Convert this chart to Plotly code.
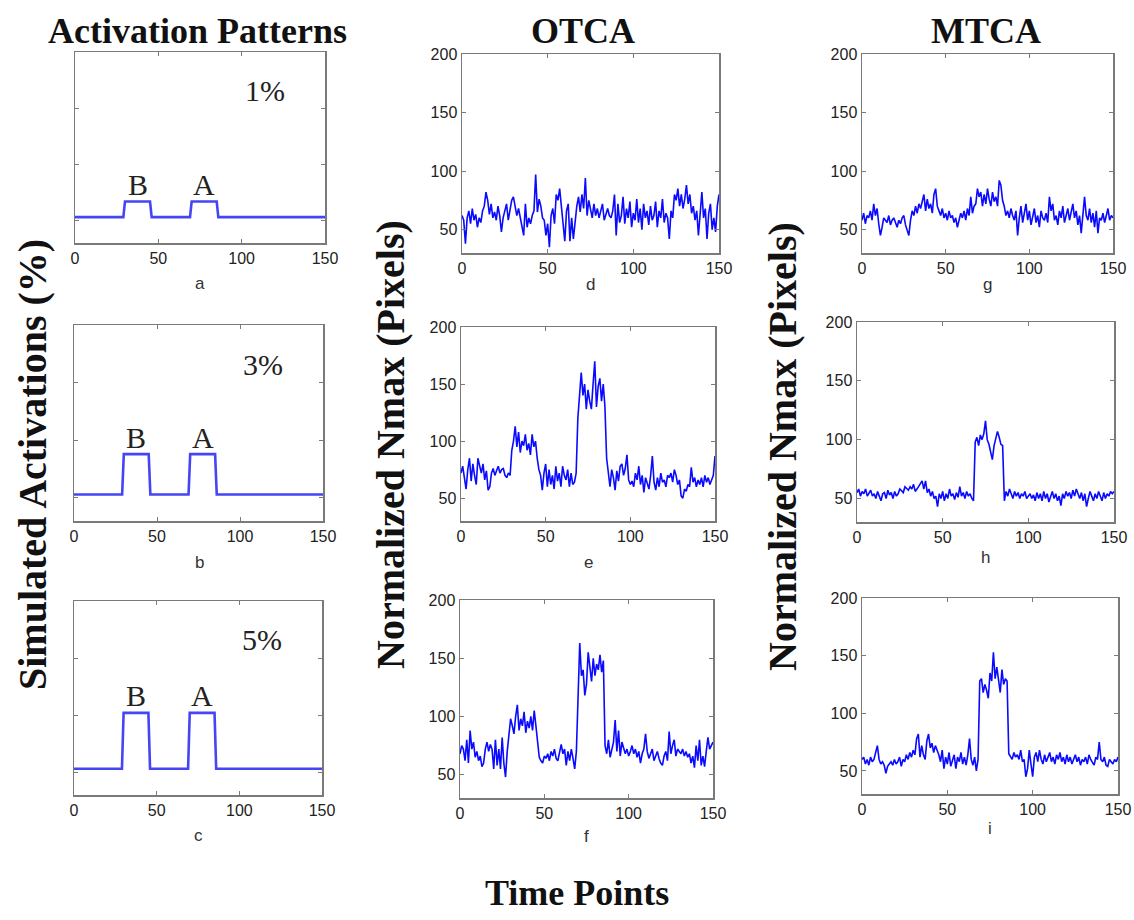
import plotly.graph_objects as go

# ---------------- data ----------------
time_points = list(range(151))
x_tick_vals = [0, 50, 100, 150]
y_tick_vals = [50, 100, 150, 200]

# activation patterns (key time points of the two boxcar pulses B and A)
act_time = [0, 29, 30, 45, 46, 69, 70, 85, 86, 150]
act_1pct = [53, 53, 67, 67, 53, 53, 67, 67, 53, 53]
act_3pct = [53, 53, 88, 88, 53, 53, 88, 88, 53, 53]
act_5pct = [53, 53, 102, 102, 53, 53, 102, 102, 53, 53]
pulse_B = [30, 45]
pulse_A = [70, 85]

otca_1 = [62, 58, 38, 60, 66, 55, 68, 58, 63, 52,
          60, 56, 66, 70, 82, 75, 63, 72, 60, 65,
          58, 70, 62, 48, 60, 66, 72, 58, 68, 75,
          78, 70, 62, 68, 60, 55, 45, 72, 52, 60,
          55, 62, 66, 97, 65, 76, 70, 60, 58, 45,
          55, 35, 62, 68, 55, 80, 75, 85, 70, 58,
          40, 66, 72, 40, 60, 42, 58, 70, 78, 65,
          80, 68, 94, 62, 75, 68, 60, 72, 62, 68,
          60, 66, 72, 58, 64, 68, 62, 60, 66, 80,
          45, 72, 56, 62, 78, 55, 68, 60, 74, 52,
          64, 58, 76, 56, 68, 50, 72, 60, 66, 54,
          70, 58, 62, 74, 52, 66, 60, 76, 56, 64,
          60, 42, 66, 60, 80, 75, 85, 70, 80, 68,
          76, 88, 72, 80, 64, 70, 58, 66, 45, 62,
          82, 60, 68, 42, 64, 72, 50, 60, 48, 70,
          80]

otca_3 = [72, 78, 68, 58, 75, 85, 65, 80, 70, 62,
          85, 78, 72, 80, 66, 74, 57, 60, 72, 76,
          70, 74, 78, 72, 75, 76, 70, 68, 72, 70,
          92, 100, 113, 95, 108, 90, 100, 96, 106, 92,
          98, 88, 106, 95, 100, 85, 75, 70, 57, 72,
          80, 60, 75, 62, 70, 58, 78, 65, 72, 60,
          78, 70, 66, 75, 60, 72, 62, 64, 72, 120,
          145, 160, 140, 150, 128, 145, 135, 128, 150, 170,
          130, 148, 155, 135, 150, 130, 85, 72, 60, 75,
          68, 57, 74, 65, 78, 80, 70, 76, 88, 66,
          62, 65, 60, 72, 66, 78, 62, 70, 55, 68,
          62, 58, 70, 87, 64, 57, 68, 60, 72, 64,
          66, 60, 70, 68, 72, 64, 75, 70, 62, 66,
          52, 50, 58, 56, 62, 60, 77, 64, 68, 60,
          66, 62, 68, 60, 70, 64, 68, 62, 66, 70,
          87]

otca_5 = [68, 75, 72, 62, 80, 60, 88, 72, 78, 65,
          70, 62, 66, 57, 60, 72, 78, 70, 76, 72,
          55, 80, 58, 72, 55, 82, 60, 48, 70, 85,
          98, 92, 85, 100, 110, 88, 98, 92, 104, 86,
          96, 90, 100, 88, 105, 92, 75, 65, 62, 60,
          66, 64, 68, 62, 70, 66, 72, 64, 62, 70,
          76, 68, 72, 58, 70, 62, 72, 64, 55, 70,
          125, 163, 135, 140, 118, 128, 155, 140, 130, 150,
          135, 145, 140, 153, 138, 148, 75, 68, 80, 65,
          72, 78, 97, 70, 88, 66, 78, 72, 68, 72,
          66, 70, 75, 68, 72, 65, 70, 60, 68, 72,
          85, 70, 64, 68, 72, 62, 66, 70, 64, 60,
          58, 66, 70, 62, 87, 68, 75, 80, 66, 72,
          70, 68, 72, 66, 70, 65, 68, 60, 66, 56,
          75, 62, 80, 58, 66, 57, 70, 82, 72, 75,
          78]

mtca_1 = [58, 64, 55, 62, 60, 66, 58, 72, 62, 68,
          55, 45, 52, 60, 58, 56, 62, 54, 58, 60,
          56, 52, 58, 55, 60, 62, 54, 50, 45, 58,
          66, 62, 70, 64, 72, 68, 74, 80, 66, 76,
          68, 72, 64, 80, 85, 70, 66, 62, 68, 60,
          64, 58, 66, 60, 62, 56, 60, 52, 58, 64,
          60, 66, 58, 68, 62, 78, 64, 70, 72, 85,
          78, 82, 70, 80, 72, 85, 76, 70, 82, 74,
          78, 70, 92, 88, 75, 70, 62, 66, 60, 68,
          62, 58, 66, 45, 60, 70, 56, 64, 72, 58,
          66, 54, 60, 68, 56, 62, 52, 66, 60, 58,
          64, 56, 78, 66, 72, 58, 62, 54, 66, 60,
          70, 56, 62, 68, 58, 64, 72, 60, 66, 54,
          62, 47, 66, 78, 62, 58, 68, 56, 64, 52,
          66, 47, 60, 58, 64, 56, 62, 68, 58, 62,
          60]

mtca_3 = [55, 58, 52, 56, 54, 58, 52, 55, 57, 52,
          54, 50, 56, 52, 48, 54, 55, 50, 57, 53,
          55, 50, 56, 52, 54, 58, 56, 55, 60, 58,
          57, 60, 58, 62, 56, 58, 60, 62, 65, 58,
          65, 55, 58, 52, 56, 50, 52, 43, 54, 50,
          56, 48, 54, 50, 58, 52, 54, 49, 55, 51,
          60, 52, 55, 50, 56, 52, 54, 50, 48, 98,
          102, 95, 104, 100, 105, 116, 100, 96, 90, 83,
          95, 100, 107, 102, 96, 95, 48, 56, 52, 58,
          54, 50, 56, 52, 55, 50, 54, 52, 56, 50,
          52, 54, 50, 53, 48, 55, 50, 54, 48, 56,
          50, 54, 47, 52, 56, 50, 54, 48, 52, 44,
          54, 50, 56, 52, 55, 50, 57, 52, 58, 54,
          50, 55, 48, 54, 43, 50, 56, 52, 48, 54,
          50, 56, 52, 48, 55, 50, 54, 52, 56, 54,
          56]

mtca_5 = [60, 62, 56, 60, 55, 62, 58, 60, 66, 72,
          60, 56, 58, 55, 48, 54, 56, 58, 55, 60,
          56, 58, 62, 54, 60, 58, 64, 60, 66, 62,
          68, 64, 78, 82, 62, 72, 64, 60, 76, 82,
          70, 74, 66, 72, 68, 64, 58, 68, 52, 62,
          56, 66, 54, 60, 64, 52, 62, 58, 66, 56,
          62, 55, 64, 78, 60, 55, 62, 50, 60, 128,
          130, 118, 125, 120, 113, 135, 128, 153, 130, 140,
          128, 118, 138, 125, 130, 128, 65, 62, 60, 66,
          62, 64, 60, 68, 58, 60, 45, 52, 68, 56,
          45, 62, 66, 58, 68, 60, 56, 64, 58, 62,
          66, 58, 62, 56, 64, 60, 66, 58, 62, 56,
          64, 58, 62, 56, 60, 64, 58, 62, 55, 60,
          58, 62, 56, 64, 60, 58, 55, 62, 60, 75,
          60, 58, 62, 55, 54, 60, 58, 56, 60, 58,
          62]

panel_letters = ["a", "b", "c", "d", "e", "f", "g", "h", "i"]
pct_labels = ["1%", "3%", "5%"]
column_titles = ["Activation Patterns", "OTCA", "MTCA"]
y_title_left = "Simulated Activations (%)"
y_title_right = "Normalized Nmax (Pixels)"
x_title = "Time Points"

# ---------------- layout geometry (pixels) ----------------
W, H = 1134, 920
# (left, right, top, bottom) of each panel, in pixels
boxes = {
    "a": (75, 325, 52, 243), "b": (74, 323, 325, 521), "c": (74, 322, 601, 795),
    "d": (462, 719, 54, 253), "e": (461, 715, 327, 521), "f": (460, 713, 600, 798),
    "g": (862, 1113, 54, 253), "h": (857, 1114, 322, 522), "i": (862, 1118, 598, 794),
}
letter_pos = {
    "a": (200, 283), "b": (199, 562), "c": (198, 835),
    "d": (590, 285), "e": (588, 562), "f": (586, 836),
    "g": (987, 285), "h": (985, 557), "i": (990, 828),
}

def fx(p):
    return p / W

def fy(p):
    return 1 - p / H

act_series = {"a": act_1pct, "b": act_3pct, "c": act_5pct}
noisy_series = {"d": otca_1, "e": otca_3, "f": otca_5,
                "g": mtca_1, "h": mtca_3, "i": mtca_5}

FRAME = "#7a7a7a"
TICKFONT = dict(family="Liberation Sans, Arial, sans-serif", size=16, color="#222222")
SERIF = "Liberation Serif, Times New Roman, serif"

fig = go.Figure()
layout = dict(
    width=W, height=H,
    margin=dict(l=0, r=0, t=0, b=0),
    paper_bgcolor="white", plot_bgcolor="white",
    showlegend=False,
)
annotations = []

for k, letter in enumerate(panel_letters, start=1):
    xa = "x" if k == 1 else f"x{k}"
    ya = "y" if k == 1 else f"y{k}"
    l, r, t, b = boxes[letter]
    is_act = letter in act_series

    if is_act:
        fig.add_trace(go.Scatter(x=act_time, y=act_series[letter], mode="lines",
                                 line=dict(color="#4545f5", width=2.6),
                                 xaxis=xa, yaxis=ya, hoverinfo="skip"))
    else:
        fig.add_trace(go.Scatter(x=time_points, y=noisy_series[letter], mode="lines",
                                 line=dict(color="#0a0aff", width=1.6),
                                 xaxis=xa, yaxis=ya, hoverinfo="skip"))

    layout["xaxis" if k == 1 else f"xaxis{k}"] = dict(
        domain=[fx(l), fx(r)], anchor=ya, range=[0, 150],
        tickvals=x_tick_vals, ticks="inside", ticklen=4, tickcolor=FRAME,
        showline=True, linecolor=FRAME, linewidth=1.5, mirror="ticks",
        showgrid=False, zeroline=False, tickfont=TICKFONT, fixedrange=True,
        automargin=False,
    )
    layout["yaxis" if k == 1 else f"yaxis{k}"] = dict(
        domain=[fy(b), fy(t)], anchor=xa, range=[30, 200],
        tickvals=y_tick_vals, ticks="inside", ticklen=4, tickcolor=FRAME,
        showline=True, linecolor=FRAME, linewidth=1.5, mirror="ticks",
        showgrid=False, zeroline=False, tickfont=TICKFONT, fixedrange=True,
        showticklabels=not is_act, automargin=False,
    )

    lx, ly = letter_pos[letter]
    annotations.append(dict(text=letter, x=fx(lx), y=fy(ly), xref="paper", yref="paper",
                            showarrow=False, xanchor="center", yanchor="middle",
                            font=dict(family="Liberation Sans, Arial, sans-serif",
                                      size=17, color="#333333")))

    if is_act:
        idx = ["a", "b", "c"].index(letter)
        peak = max(act_series[letter])
        annotations.append(dict(text=pct_labels[idx], x=114, y=166, xref=xa, yref=ya,
                                showarrow=False, xanchor="center", yanchor="middle",
                                font=dict(family=SERIF, size=30, color="#222222")))
        for name, pulse in (("B", pulse_B), ("A", pulse_A)):
            annotations.append(dict(text=name, x=(pulse[0] + pulse[1]) / 2, y=peak,
                                    xref=xa, yref=ya, showarrow=False,
                                    xanchor="center", yanchor="middle", yshift=17,
                                    font=dict(family=SERIF, size=30, color="#222222")))

# column titles
for title, cx in zip(column_titles, [197, 583, 986]):
    annotations.append(dict(text=title, x=fx(cx), y=fy(31), xref="paper", yref="paper",
                            showarrow=False, xanchor="center", yanchor="middle",
                            font=dict(family=SERIF, size=36, color="#111111", weight="bold")))

# y titles
for text, cx, cy in [(y_title_left, 32, 465), (y_title_right, 390, 445), (y_title_right, 782, 447)]:
    annotations.append(dict(text=text, x=fx(cx), y=fy(cy), xref="paper", yref="paper",
                            showarrow=False, xanchor="center", yanchor="middle", textangle=-90,
                            font=dict(family=SERIF, size=40, color="#111111", weight="bold")))

# x title
annotations.append(dict(text=x_title, x=fx(577), y=fy(893), xref="paper", yref="paper",
                        showarrow=False, xanchor="center", yanchor="middle",
                        font=dict(family=SERIF, size=36, color="#111111", weight="bold")))

layout["annotations"] = annotations
fig.update_layout(**layout)

pin_to_corner = (
    "document.documentElement.style.margin='0';"
    "document.body.style.margin='0';document.body.style.padding='0';"
    "document.body.style.overflow='hidden';"
    "var gd=document.getElementById('{plot_id}');"
    "gd.style.position='absolute';gd.style.left='0px';gd.style.top='0px';"
)
fig.write_html("out.html", post_script=pin_to_corner,
               config={"displayModeBar": False, "staticPlot": True})
